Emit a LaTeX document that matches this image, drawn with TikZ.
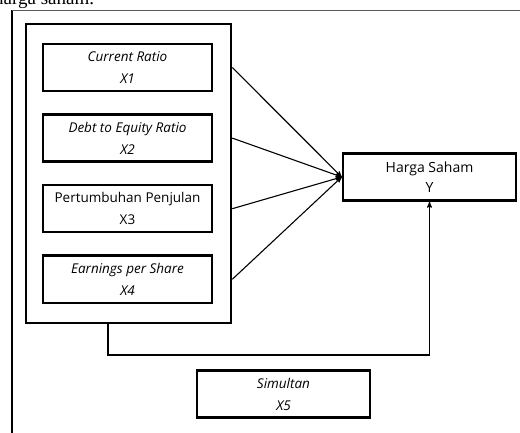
\documentclass[tikz,border=0pt]{standalone}
\usepackage{fontspec}
\setmainfont{Liberation Serif}
\setsansfont{Open Sans}
\usetikzlibrary{arrows, positioning}
\tikzset{
    %Define standard arrow tip
    >=stealth',
}

\begin{document}
\begin{tikzpicture}[
  x=1pt, y=-1pt,
  every node/.style = {shape=rectangle, align=center,
                       font=\sffamily\fontsize{13.5}{22}\selectfont},
  var/.style = {draw, line width=2.6pt, minimum width=169pt,
                minimum height=47pt, inner sep=0pt},
  grp/.style = {draw, line width=2.6pt, minimum width=205pt,
                minimum height=299pt, inner sep=0pt},
  lnk/.style = {line width=1.1pt, ->} ]
  \useasboundingbox (0,0) rectangle (520,433);
  % caption line, cut off by the page
  \node[font=\fontsize{19}{22}\selectfont, anchor=base west, inner sep=0pt]
    (cap) at (-6,5) {harga saham.};
  \draw[line width=1.6pt] (12,440) -- (12,10);
  \draw[gray!70!black, line width=0.9pt] (12,10.5) -- (530,10.5);

  \node[grp] (group) at (128.5,173.5) {};
  \node[var] (x1) at (127.5,67.5) {\textit{Current Ratio}\\\textit{X1}};
  \node[var, below=21pt of x1] (x2) {\textit{Debt to Equity Ratio}\\\textit{X2}};
  \node[var, below=21pt of x2] (x3) {Pertumbuhan Penjulan\\X3};
  \node[var, below=21pt of x3] (x4) {\textit{Earnings per Share}\\\textit{X4}};
  \node[var, minimum width=173pt, font=\sffamily\fontsize{14}{20}\selectfont]
    (y) at (429.5,177) {Harga Saham\\Y};
  \node[var, minimum width=173pt] (x5) at (283.5,394) {\textit{Simultan}\\\textit{X5}};

  \foreach \v in {x1,x2,x3,x4}
    \draw[lnk] (group.east |- \v) -- (y.west);
  \coordinate (out) at (108,324);
  \draw[lnk] (out) -- ++(0,31) -| (y.south);
\end{tikzpicture}
\end{document}
